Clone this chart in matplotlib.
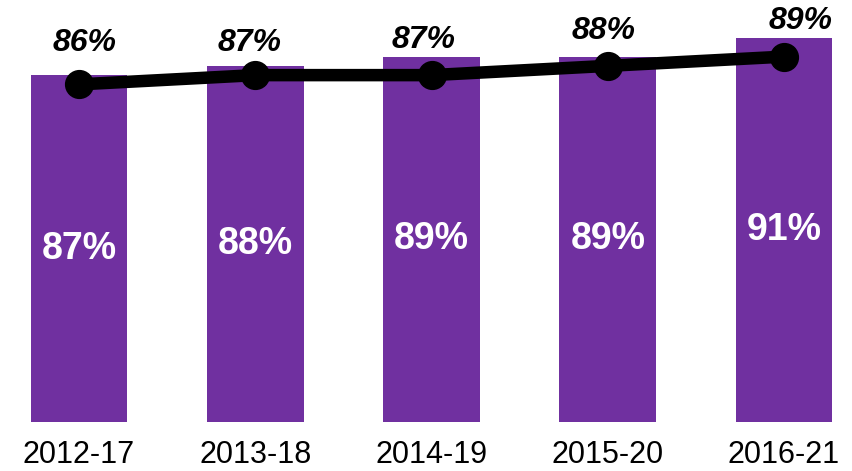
import numpy as np
import matplotlib.pyplot as plt

plt.rcParams['font.family'] = ['Liberation Sans', 'DejaVu Sans']

# Données
periodes = ["2012-17", "2013-18", "2014-19", "2015-20", "2016-21"]
barres = [87, 88, 89, 89, 91]      # valeurs des barres (%)
ligne = [86, 87, 87, 88, 89]       # valeurs de la courbe (%)

violet = "#7030A0"
# décalage des étiquettes de la courbe (points)
decalages = [(4, 30), (-4, 23), (-6, 25), (-3, 25), (12, 26)]

fig = plt.figure(figsize=(8.52, 4.71), dpi=100)
ax = fig.add_axes([0, 1 - 422 / 471, 1, 422 / 471])

x = np.arange(len(periodes))
ymin = 49.5
ax.bar(x, np.array(barres) - ymin, bottom=ymin, width=0.55, color=violet)
ax.plot(x, ligne, color="black", lw=9, marker="o", ms=20, zorder=3)

# étiquettes dans les barres (milieu de la barre)
for xi, v in zip(x, barres):
    ax.text(xi, (v + ymin) / 2, f"{v}%", ha="center", va="center",
            color="white", fontsize=27, fontweight="bold")

# étiquettes de la courbe
for xi, v, d in zip(x, ligne, decalages):
    ax.annotate(f"{v}%", (xi, v), xytext=d, textcoords="offset points",
                ha="center", va="center", fontsize=23, fontweight="bold",
                fontstyle="italic", color="black")

ax.set_xlim(-79 / 176.25, (852 - 79) / 176.25)
ax.set_ylim(ymin, ymin + 422 / 9.25)
ax.set_xticks(x)
ax.set_xticklabels(periodes, fontsize=22)
ax.tick_params(axis="x", length=0, pad=13)
ax.set_yticks([])
for s in ax.spines.values():
    s.set_visible(False)

fig.savefig("out.png", dpi=100)
